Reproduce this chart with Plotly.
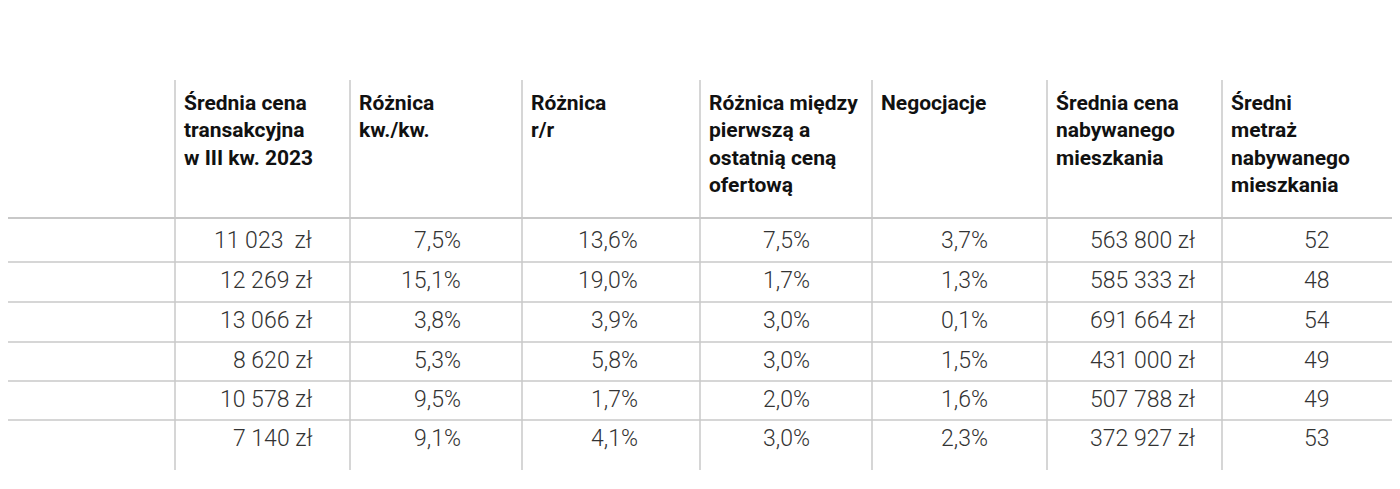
import plotly.graph_objects as go

title = "Średnie ceny transakcyjne mieszkań na rynku wtórnym"
headers = ["MIASTO", "Średnia cena<br>transakcyjna<br>w III kw. 2023", "Różnica<br>kw./kw.", "Różnica<br>r/r",
           "Różnica między<br>pierwszą a<br>ostatnią ceną<br>ofertową", "Negocjacje",
           "Średnia cena<br>nabywanego<br>mieszkania", "Średni<br>metraż<br>nabywanego<br>mieszkania"]
miasta = ["Wrocław", "Kraków", "Warszawa", "Poznań", "Gdańsk", "Łódź"]
cena_m2 = ["11 023  zł", "12 269 zł", "13 066 zł", "8 620 zł", "10 578 zł", "7 140 zł"]
kw_kw = ["7,5%", "15,1%", "3,8%", "5,3%", "9,5%", "9,1%"]
r_r = ["13,6%", "19,0%", "3,9%", "5,8%", "1,7%", "4,1%"]
roznica_ofert = ["7,5%", "1,7%", "3,0%", "3,0%", "2,0%", "3,0%"]
negocjacje = ["3,7%", "1,3%", "0,1%", "1,5%", "1,6%", "2,3%"]
cena_mieszk = ["563 800 zł", "585 333 zł", "691 664 zł", "431 000 zł", "507 788 zł", "372 927 zł"]
metraz = ["52", "48", "54", "49", "49", "53"]

columns = [miasta, cena_m2, kw_kw, r_r, roznica_ofert, negocjacje, cena_mieszk, metraz]
col_left = [0, 175, 350, 522, 700, 872, 1047, 1222]
text_right = [None, 314, 463, 640, 812, 990, 1197, 1332]
row_top = [222, 262, 302, 342, 381, 420]
row_h = 39

fig = go.Figure()
fig.add_trace(go.Scatter(x=[0, 1400], y=[0, 489], mode="markers", marker=dict(opacity=0), hoverinfo="skip"))

line = dict(color="#c8c8c8", width=1.5)
for x in col_left[1:]:
    fig.add_shape(type="line", x0=x, x1=x, y0=80, y1=470, line=line)
fig.add_shape(type="line", x0=0, x1=1400, y0=218, y1=218, line=dict(color="#c8c8c8", width=2))
for y in row_top[1:]:
    fig.add_shape(type="line", x0=0, x1=1400, y0=y, y1=y, line=line)

fig.add_annotation(x=0, y=26, text="<b>" + title + "</b>", showarrow=False, xanchor="left",
                   yanchor="middle", font=dict(size=37, color="#111", family="Roboto"))

for i, h in enumerate(headers):
    fig.add_annotation(x=col_left[i] + 7, y=89, text="<b>" + h + "</b>", showarrow=False,
                       xanchor="left", yanchor="top", align="left",
                       font=dict(size=21, color="#111", family="Roboto"))

for c, vals in enumerate(columns):
    for r, v in enumerate(vals):
        y = row_top[r] + row_h / 2 - 1
        if c == 0:
            fig.add_annotation(x=4, y=y, text=v, showarrow=False, xanchor="left", yanchor="middle",
                               font=dict(size=23, color="#333", family="Roboto", weight=300))
        else:
            fig.add_annotation(x=text_right[c], y=y, text=v, showarrow=False, xanchor="right",
                               yanchor="middle",
                               font=dict(size=23, color="#333", family="Roboto", weight=300))

# the page adds an 8px offset, so shift the axis ranges to compensate
fig.update_layout(width=1400, height=489, margin=dict(l=0, r=0, t=0, b=0),
                  plot_bgcolor="white", paper_bgcolor="white", showlegend=False,
                  xaxis=dict(range=[8, 1408], visible=False, fixedrange=True),
                  yaxis=dict(range=[497, 8], visible=False, fixedrange=True))
fig.write_html("out.html")
